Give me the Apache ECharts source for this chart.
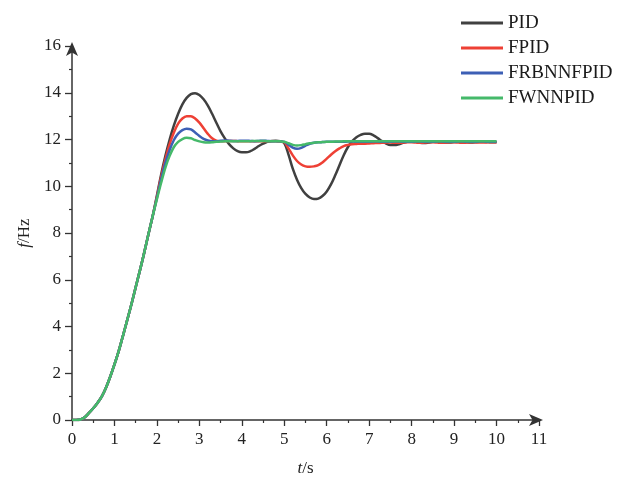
<!DOCTYPE html>
<html>
<head>
<meta charset="utf-8">
<script src="https://cdn.jsdelivr.net/npm/echarts@6/dist/echarts.min.js"></script>
<style>html,body{margin:0;padding:0;background:#fff}#c{width:626px;height:482px}</style>
</head>
<body>
<div id="c"></div>
<script>
// shared rising part, t = 0.0 .. 1.9 (step 0.1)
var rise = [0,0,0.02,0.12,0.3,0.5,0.73,1.0,1.38,1.85,2.38,2.95,3.6,4.27,4.95,5.68,6.4,7.15,7.95,8.72];
// t = 2.0 .. 10.0 (step 0.1)
var pidTail = [9.6,10.5,11.3,12.0,12.6,13.1,13.5,13.78,13.94,13.98,
13.9,13.72,13.45,13.1,12.72,12.35,12.05,11.8,11.62,11.5,
11.45,11.45,11.5,11.6,11.72,11.82,11.9,11.94,11.95,11.93,
11.85,11.35,10.75,10.28,9.92,9.67,9.52,9.45,9.47,9.58,
9.78,10.08,10.47,10.9,11.33,11.68,11.93,12.1,12.2,12.25,
12.25,12.18,12.06,11.93,11.82,11.76,11.76,11.8,11.86,11.9,
11.92,11.9,11.86,11.85,11.87,11.9,11.91,11.89,11.87,11.87,
11.89,11.9,11.9,11.88,11.87,11.88,11.9,11.9,11.89,11.88,11.88];
var fpidTail = [9.55,10.4,11.15,11.8,12.3,12.68,12.9,13.0,13.0,12.9,
12.72,12.48,12.24,12.05,11.95,11.92,11.93,11.94,11.94,11.93,
11.92,11.92,11.93,11.93,11.92,11.92,11.93,11.93,11.92,11.91,
11.88,11.62,11.32,11.08,10.93,10.85,10.83,10.85,10.9,11.02,
11.18,11.35,11.5,11.62,11.72,11.77,11.8,11.81,11.82,11.82,
11.83,11.84,11.85,11.86,11.87,11.87,11.86,11.86,11.87,11.88,
11.88,11.87,11.86,11.87,11.88,11.88,11.87,11.86,11.87,11.88,
11.88,11.87,11.86,11.87,11.88,11.88,11.87,11.87,11.88,11.88,11.88];
var frbTail = [9.5,10.3,11.0,11.55,11.98,12.25,12.4,12.46,12.43,12.3,
12.15,12.03,11.96,11.93,11.93,11.95,11.96,11.95,11.94,11.94,
11.95,11.95,11.94,11.93,11.94,11.95,11.94,11.93,11.93,11.92,
11.9,11.78,11.65,11.6,11.64,11.74,11.82,11.86,11.88,11.89,
11.9,11.9,11.9,11.9,11.9,11.91,11.91,11.9,11.9,11.9,
11.9,11.91,11.91,11.9,11.9,11.9,11.91,11.91,11.9,11.9,
11.9,11.91,11.91,11.9,11.9,11.9,11.91,11.91,11.9,11.9,
11.9,11.91,11.91,11.9,11.9,11.9,11.91,11.91,11.9,11.9,11.9];
var fwnTail = [9.45,10.15,10.8,11.3,11.68,11.9,12.02,12.07,12.05,11.98,
11.92,11.88,11.87,11.88,11.9,11.91,11.92,11.92,11.92,11.93,
11.93,11.93,11.93,11.94,11.94,11.94,11.93,11.93,11.93,11.92,
11.9,11.84,11.77,11.74,11.76,11.8,11.84,11.86,11.88,11.89,
11.9,11.9,11.91,11.91,11.92,11.92,11.92,11.92,11.92,11.92,
11.92,11.92,11.92,11.92,11.92,11.92,11.92,11.92,11.92,11.92,
11.92,11.92,11.92,11.92,11.92,11.92,11.92,11.92,11.92,11.92,
11.92,11.92,11.92,11.92,11.92,11.92,11.92,11.92,11.92,11.92,11.92];

var seriesNames = ['PID','FPID','FRBNNFPID','FWNNPID'];
var seriesColors = ['#404040','#ee4035','#3d5fb5','#45b96a'];
var seriesValues = [rise.concat(pidTail), rise.concat(fpidTail), rise.concat(frbTail), rise.concat(fwnTail)];
var xTicks = [0,1,2,3,4,5,6,7,8,9,10,11];
var yTicks = [0,2,4,6,8,10,12,14,16];

var times = [];
for (var i = 0; i <= 100; i++) times.push(Math.round(i) / 10);

var chart = echarts.init(document.getElementById('c'), null, {renderer: 'canvas'});
var font = 'Liberation Serif';
var axisColor = '#333';
var series = seriesNames.map(function (n, k) {
  return {
    name: n, type: 'line', smooth: 0.35, symbol: 'none',
    lineStyle: {width: 2.5, color: seriesColors[k]},
    itemStyle: {color: seriesColors[k]},
    data: times.map(function (t, j) { return [t, seriesValues[k][j]]; })
  };
});
var nameStyle = {fontFamily: font, fontSize: 17, color: '#222',
  rich: {i: {fontFamily: font, fontSize: 17, fontStyle: 'italic', color: '#222'}}};
chart.setOption({
  animation: false,
  backgroundColor: '#fff',
  grid: {left: 72, right: 87, top: 46, bottom: 58, containLabel: false},
  legend: {
    orient: 'vertical', left: 456, top: 8, icon: 'rect', itemWidth: 42, itemHeight: 3,
    itemGap: 5,
    textStyle: {fontFamily: font, fontSize: 19, color: '#1a1a1a', lineHeight: 20},
    data: seriesNames
  },
  xAxis: {
    type: 'value', min: xTicks[0], max: xTicks[xTicks.length - 1], interval: 1,
    name: '{i|t}/s', nameLocation: 'middle', nameGap: 40,
    nameTextStyle: nameStyle,
    axisLine: {show: true, lineStyle: {color: axisColor, width: 1.5}, symbol: ['none', 'arrow'], symbolSize: [9, 14], symbolOffset: [0, 4]},
    axisTick: {show: true, length: 6, lineStyle: {color: axisColor, width: 1.3}},
    minorTick: {show: true, splitNumber: 2, length: 3, lineStyle: {color: axisColor, width: 1.2}},
    axisLabel: {fontFamily: font, fontSize: 17, color: '#222', margin: 11},
    splitLine: {show: false}
  },
  yAxis: {
    type: 'value', min: yTicks[0], max: yTicks[yTicks.length - 1], interval: 2,
    name: '{i|f}/Hz', nameLocation: 'middle', nameGap: 34,
    nameTextStyle: nameStyle,
    axisLine: {show: true, lineStyle: {color: axisColor, width: 1.5}, symbol: ['none', 'arrow'], symbolSize: [9, 14], symbolOffset: [0, 4]},
    axisTick: {show: true, length: 7, lineStyle: {color: axisColor, width: 1.3}},
    minorTick: {show: true, splitNumber: 2, length: 3, lineStyle: {color: axisColor, width: 1.2}},
    axisLabel: {fontFamily: font, fontSize: 17, color: '#222', margin: 11},
    splitLine: {show: false}
  },
  series: series
});
</script>
</body>
</html>
